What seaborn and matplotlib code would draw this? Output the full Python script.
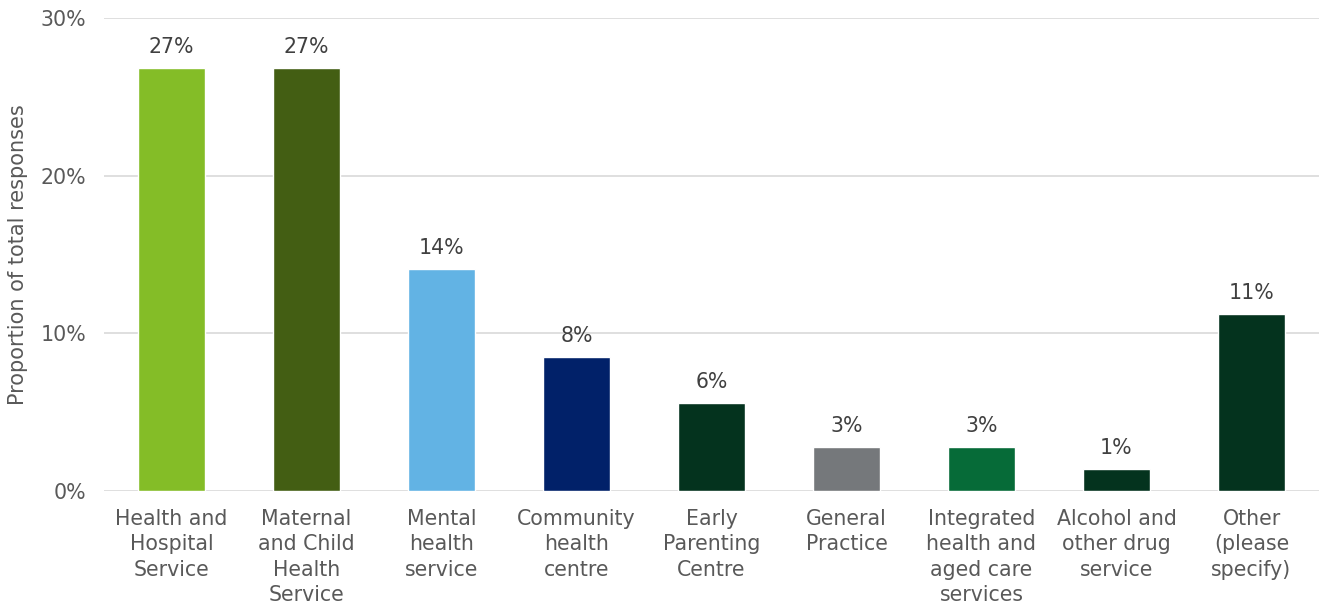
import matplotlib
matplotlib.use("Agg")
import matplotlib.pyplot as plt
import seaborn as sns
import pandas as pd
from matplotlib.ticker import PercentFormatter

categories = [
    "Health and\nHospital\nService",
    "Maternal\nand Child\nHealth\nService",
    "Mental\nhealth\nservice",
    "Community\nhealth\ncentre",
    "Early\nParenting\nCentre",
    "General\nPractice",
    "Integrated\nhealth and\naged care\nservices",
    "Alcohol and\nother drug\nservice",
    "Other\n(please\nspecify)",
]
shares = [0.268, 0.268, 0.141, 0.085, 0.056, 0.028, 0.028, 0.014, 0.112]
colors = ["#84BD27", "#435E13", "#62B3E4", "#012169", "#04331E",
          "#75787B", "#066B38", "#04331E", "#04331E"]
y_ticks = [0.0, 0.1, 0.2, 0.3]

text_color = "#595959"
sns.set_theme(style="white")
plt.rcParams["font.family"] = ["DejaVu Sans"]

df = pd.DataFrame({"category": categories, "share": shares})

fig = plt.figure(figsize=(13.19, 6.06), dpi=100)
ax = fig.add_axes([104 / 1319, 1 - 491 / 606, 1215 / 1319, 473 / 606])

sns.barplot(data=df, x="category", y="share", hue="category",
            palette=colors, legend=False, width=0.5, saturation=1, ax=ax,
            zorder=3)

ax.set_ylim(0, 0.3)
ax.set_yticks(y_ticks)
ax.yaxis.set_major_formatter(PercentFormatter(1.0, decimals=0))
ax.grid(axis="y", color="#D9D9D9", linewidth=1.2, zorder=0)
for s in ["top", "right", "left", "bottom"]:
    ax.spines[s].set_visible(False)

ax.tick_params(axis="y", labelsize=14.8, labelcolor=text_color, length=0, pad=13)
ax.tick_params(axis="x", labelsize=14.8, labelcolor=text_color, length=0, pad=13)
for lbl in ax.get_xticklabels():
    lbl.set_linespacing(1.33)

ax.set_xlabel("")
ax.set_ylabel("Proportion of total responses", fontsize=15, color=text_color)
ax.yaxis.set_label_coords(-0.0708, 0.5)
ax.yaxis.label.set_va("center")

for i, v in enumerate(shares):
    ax.text(i, v + 0.007, f"{round(v * 100):.0f}%", ha="center", va="bottom",
            fontsize=14.8, color="#404040")

fig.savefig("out.png", dpi=100)
